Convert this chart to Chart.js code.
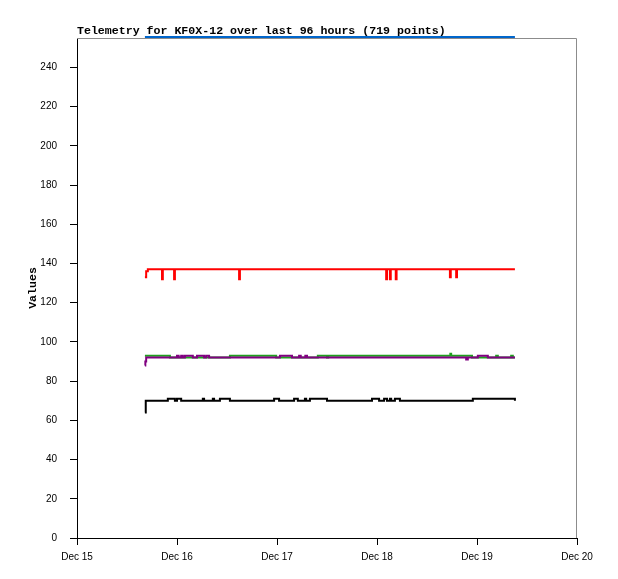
<!DOCTYPE html>
<html>
<head>
<meta charset="utf-8">
<script src="https://cdn.jsdelivr.net/npm/chart.js@4"></script>
<style>
    body { margin: 0; background: #fff; }
    canvas { display: block; }
</style>
</head>
<body>
<canvas id="telemetryChart" width="618" height="579"></canvas>
<script>
// hours since Dec 15 00:00
const xTickLabels = ['Dec 15', 'Dec 16', 'Dec 17', 'Dec 18', 'Dec 19', 'Dec 20'];
const yTicks = [0, 20, 40, 60, 80, 100, 120, 140, 160, 180, 200, 220, 240];

const blueHours = [16.3, 105.1];
const blueValues = [255.5, 255.5];

const redHours = [16.3, 16.6, 17.0, 20.2, 20.4, 20.6, 23.1, 23.3, 23.5, 38.7, 38.9, 39.1,
    74.0, 74.2, 74.4, 74.9, 75.1, 75.3, 76.3, 76.5, 76.7, 89.3, 89.5, 89.7, 90.8, 91.0, 91.2, 105.1];
const redValues = [133, 136, 137, 137, 132, 137, 137, 132, 137, 137, 132, 137,
    137, 132, 137, 137, 132, 137, 137, 132, 137, 137, 133, 137, 137, 133, 137, 137];

const purpleHours = [16.3, 16.4, 16.6, 24.0, 24.4, 25.0, 25.4, 25.9, 27.8, 28.8, 30.5, 31.0, 31.7,
    48.7, 51.6, 53.3, 53.7, 54.8, 55.2, 93.4, 93.8, 96.2, 98.6, 105.1];
const purpleValues = [88, 90, 92, 93, 92, 93, 92, 93, 92, 93, 92, 93, 92,
    93, 92, 93, 92, 93, 92, 91, 92, 93, 92, 92];

const greenHours = [16.3, 22.3, 36.7, 47.8, 57.8, 60.0, 60.3, 89.4, 89.6, 89.8, 94.8, 100.6, 101.0, 104.2, 104.6, 105.1];
const greenValues = [93, 92, 93, 92, 93, 92, 93, 93, 94, 93, 92, 93, 92, 93, 92, 92];

const blackHours = [16.3, 16.5, 21.8, 23.5, 24.0, 25.0, 30.2, 30.5, 32.6, 32.9, 34.3, 36.7,
    47.3, 48.5, 52.1, 53.0, 54.7, 55.0, 55.9, 60.0, 70.8, 72.5, 73.7, 74.4, 75.1, 75.4, 76.3, 77.5,
    95.0, 104.4, 105.1];
const blackValues = [64, 70, 71, 70, 71, 70, 71, 70, 71, 70, 71, 70,
    71, 70, 71, 70, 71, 70, 71, 70, 71, 70, 71, 70, 71, 70, 71, 70,
    71, 71, 70];

const titleText = 'Telemetry for KF0X-12 over last 96 hours (719 points)';

function toPoints(hours, values) {
    var points = [];
    for (let i = 0; i < hours.length; i++) {
        points.push({ x: hours[i], y: values[i] });
    }
    return points;
}

function makeDataSet(hours, values, color, clip) {
    return {
        data: toPoints(hours, values),
        borderColor: color,
        backgroundColor: color,
        borderWidth: 2,
        pointRadius: 0,
        stepped: 'before',
        clip: clip,
        fill: false
    };
}

const framePlugin = {
    id: 'frame',
    beforeDatasetsDraw: function (chart) {
        var ctx = chart.ctx;
        var area = chart.chartArea;
        ctx.save();
        ctx.strokeStyle = '#8c8c8c';
        ctx.lineWidth = 1;
        ctx.beginPath();
        ctx.moveTo(area.left, area.top + 0.5);
        ctx.lineTo(area.right - 0.5, area.top + 0.5);
        ctx.lineTo(area.right - 0.5, area.bottom);
        ctx.stroke();
        ctx.restore();
    },
    afterDraw: function (chart) {
        var ctx = chart.ctx;
        ctx.save();
        ctx.fillStyle = '#000';
        ctx.font = 'bold 11.6px "Liberation Mono"';
        ctx.textBaseline = 'alphabetic';
        ctx.textAlign = 'left';
        ctx.fillText(titleText, chart.chartArea.left, chart.chartArea.top - 4);
        ctx.restore();
    }
};

var chartControl = document.getElementById('telemetryChart');

var telemetryChart = new Chart(chartControl, {
    type: 'line',
    data: {
        datasets: [
            makeDataSet(blueHours, blueValues, '#0066cc', false),
            makeDataSet(redHours, redValues, '#ff0000', 1),
            makeDataSet(purpleHours, purpleValues, '#800080', 1),
            makeDataSet(greenHours, greenValues, '#1f9f1f', 1),
            makeDataSet(blackHours, blackValues, '#000000', 1)
        ]
    },
    options: {
        responsive: false,
        animation: false,
        devicePixelRatio: 1,
        layout: {
            padding: { left: 26, right: 41, top: 38, bottom: 0 }
        },
        plugins: {
            legend: { display: false },
            tooltip: { enabled: false }
        },
        scales: {
            x: {
                type: 'linear',
                min: 0,
                max: 120,
                afterFit: function (scale) { scale.height = 41; },
                afterBuildTicks: function (scale) {
                    scale.ticks = xTickLabels.map(function (label, i) { return { value: i * 24 }; });
                },
                ticks: {
                    color: '#000',
                    font: { family: 'Liberation Sans', size: 10 },
                    padding: 6,
                    maxRotation: 0,
                    autoSkip: false,
                    callback: function (value) { return xTickLabels[Math.round(value / 24)]; }
                },
                grid: {
                    drawOnChartArea: false,
                    drawTicks: true,
                    tickLength: 7,
                    color: '#000'
                },
                border: { display: true, color: '#000', width: 1 }
            },
            y: {
                min: 0,
                max: 255,
                afterFit: function (scale) { scale.width = 51; },
                afterBuildTicks: function (scale) {
                    scale.ticks = yTicks.map(function (v) { return { value: v }; });
                },
                ticks: {
                    color: '#000',
                    font: { family: 'Liberation Sans', size: 10 },
                    padding: 13,
                    autoSkip: false
                },
                grid: {
                    drawOnChartArea: false,
                    drawTicks: true,
                    tickLength: 7,
                    color: '#000'
                },
                border: { display: true, color: '#000', width: 1 },
                title: {
                    display: true,
                    text: 'Values',
                    color: '#000',
                    font: { family: 'Liberation Mono', size: 11.6, weight: 'bold' },
                    padding: 0
                }
            }
        }
    },
    plugins: [framePlugin]
});
</script>
</body>
</html>
